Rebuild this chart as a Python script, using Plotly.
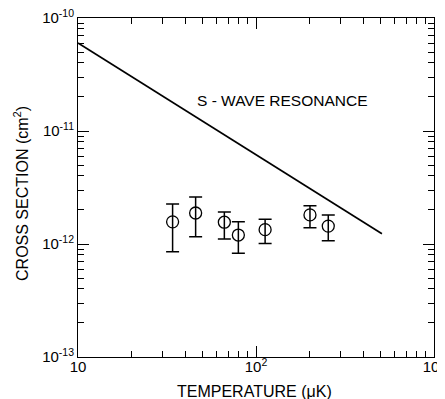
import numpy as np
import plotly.graph_objects as go

# Data
temp_uK = [34.0, 45.8, 66.4, 79.6, 112.5, 201.0, 254.7]
sigma = [1.57e-12, 1.88e-12, 1.56e-12, 1.20e-12, 1.34e-12, 1.81e-12, 1.44e-12]
sigma_hi = [2.26e-12, 2.61e-12, 1.92e-12, 1.57e-12, 1.66e-12, 2.18e-12, 1.81e-12]
sigma_lo = [8.55e-13, 1.16e-12, 1.11e-12, 8.28e-13, 1.01e-12, 1.39e-12, 1.07e-12]

swave_T = [10, 510]
swave_sigma = [6.0e-11, 1.23e-12]

x_tickvals = [10, 100, 1000]
x_ticktext = ["10", "10<sup>2</sup>", "10<sup>3</sup>"]
y_tickvals = [1e-10, 1e-11, 1e-12, 1e-13]
y_ticktext = ["10<sup>-10</sup>", "10<sup>-11</sup>", "10<sup>-12</sup>", "10<sup>-13</sup>"]

err_plus = [h - s for h, s in zip(sigma_hi, sigma)]
err_minus = [s - l for s, l in zip(sigma, sigma_lo)]

FONT = "Liberation Sans, Arial, Helvetica, sans-serif"

fig = go.Figure()
fig.add_trace(go.Scatter(
    x=swave_T, y=swave_sigma, mode="lines",
    line=dict(color="black", width=1.7), showlegend=False))
fig.add_trace(go.Scatter(
    x=temp_uK, y=sigma, mode="markers",
    marker=dict(symbol="circle-open", size=12, color="black", line=dict(width=1.3)),
    error_y=dict(type="data", symmetric=False, array=err_plus, arrayminus=err_minus,
                 color="black", thickness=1.5, width=6.5),
    showlegend=False))

fig.add_annotation(x=np.log10(140), y=np.log10(1.88e-11), xref="x", yref="y",
                   text="S - WAVE RESONANCE", showarrow=False,
                   font=dict(family=FONT, size=15.5, color="black"))

# axis titles
fig.add_annotation(x=0.497, y=-0.103, xref="paper", yref="paper",
                   text="TEMPERATURE (\u03bcK)", showarrow=False,
                   xanchor="center", yanchor="middle",
                   font=dict(family=FONT, size=16, color="black"))
fig.add_annotation(x=-0.160, y=0.481, xref="paper", yref="paper",
                   text="CROSS SECTION (cm<sup>2</sup>)", showarrow=False, textangle=-90,
                   xanchor="center", yanchor="middle",
                   font=dict(family=FONT, size=16, color="black"))

axis_common = dict(
    type="log", showgrid=False, zeroline=False, showline=True, linecolor="black",
    linewidth=1, mirror="allticks", ticks="inside", ticklen=11, tickcolor="black",
    tickwidth=1, automargin=False, ticklabeloverflow="allow",
    minor=dict(ticks="inside", ticklen=6, tickcolor="black", tickwidth=1, dtick="D1",
               showgrid=False),
    tickfont=dict(family=FONT, size=15, color="black"),
)

fig.update_xaxes(range=[1, 3], tickvals=x_tickvals, ticktext=x_ticktext,
                 ticklabelstandoff=-4, **axis_common)
fig.update_yaxes(range=[-13, -10], tickvals=y_tickvals, ticktext=y_ticktext,
                 **axis_common)

# the page body adds an 8 px offset, so the figure is sized to fit the window
fig.update_layout(
    width=437, height=391,
    margin=dict(l=70, r=11, t=10, b=42),
    plot_bgcolor="white", paper_bgcolor="white",
    font=dict(family=FONT, color="black"),
)

fig.write_html("out.html")
